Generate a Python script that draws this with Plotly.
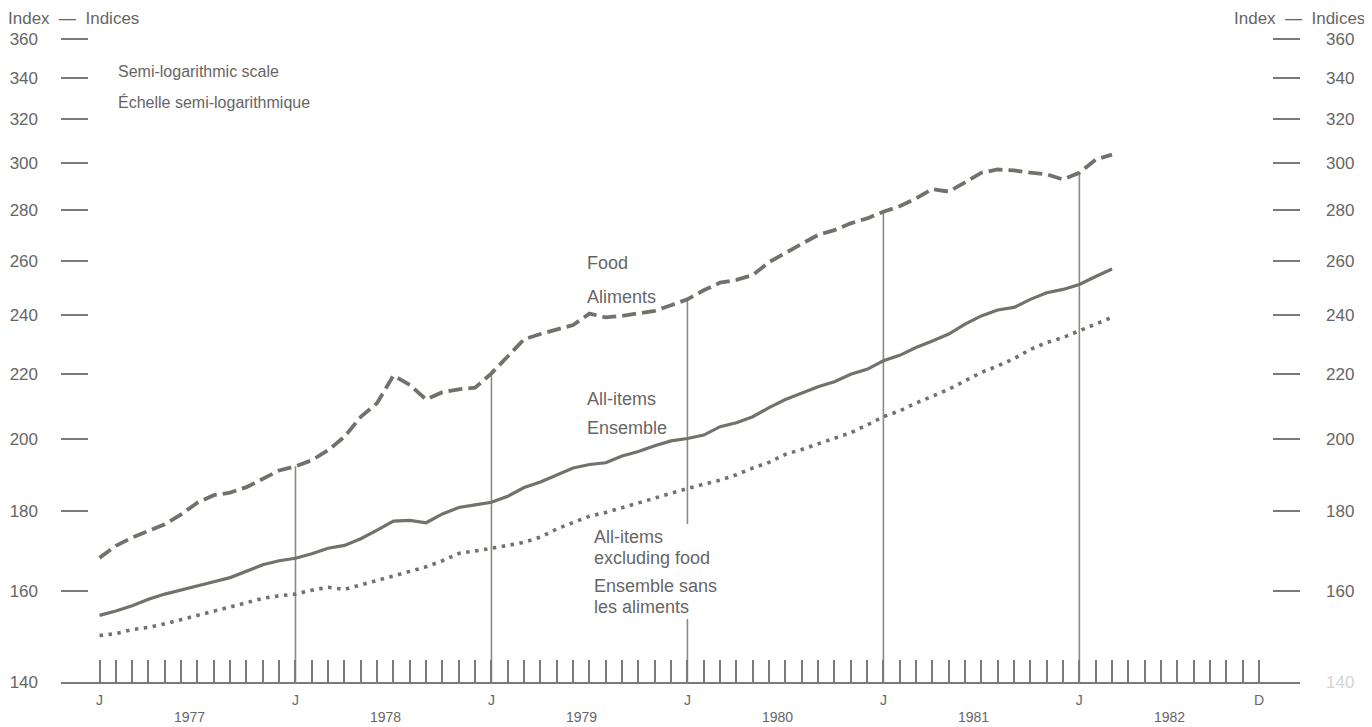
import math
import plotly.graph_objects as go

# ---- data (monthly, Jan 1977 - Mar 1982) ----
years = [1977, 1978, 1979, 1980, 1981, 1982]
food = [
    168.0, 171.0, 173.1, 174.7, 176.5, 179.1, 182.2, 184.2, 184.9, 186.4, 188.7, 191.0,
    192.2, 193.9, 196.8, 200.7, 206.7, 210.9, 219.6, 216.6, 212.0, 214.3, 215.2, 215.7,
    220.3, 226.0, 231.6, 233.4, 235.1, 236.5, 240.5, 239.2, 239.7, 240.5, 241.5, 243.5,
    245.6, 248.9, 251.7, 252.7, 254.5, 259.4, 262.9, 266.1, 270.0, 271.9, 274.6, 276.6,
    279.3, 281.6, 284.8, 288.8, 287.7, 291.6, 295.8, 297.2, 296.8, 295.8, 295.1, 292.9,
    295.8, 301.6, 303.8,
]
all_items = [
    154.4, 155.4, 156.6, 158.1, 159.3, 160.2, 161.2, 162.2, 163.2, 164.8, 166.3, 167.3,
    167.9, 169.0, 170.4, 171.1, 172.8, 175.0, 177.3, 177.5, 176.9, 179.2, 180.9, 181.6,
    182.3, 183.9, 186.3, 187.8, 189.8, 191.7, 192.7, 193.2, 195.1, 196.4, 198.1, 199.5,
    200.2, 201.2, 203.7, 204.9, 206.7, 209.5, 212.0, 214.1, 216.0, 217.6, 220.0, 221.6,
    224.4, 226.2, 228.8, 231.0, 233.4, 236.8, 239.7, 241.8, 242.7, 245.6, 248.0, 249.2,
    251.0, 254.0, 256.8,
]
excl_food = [
    149.9, 150.3, 151.2, 151.7, 152.5, 153.4, 154.4, 155.4, 156.3, 157.3, 158.3, 158.9,
    159.3, 160.2, 160.9, 160.4, 161.4, 162.4, 163.6, 164.7, 165.8, 167.3, 169.1, 169.7,
    170.3, 171.1, 171.9, 173.2, 175.3, 177.0, 178.6, 179.6, 180.9, 182.2, 183.5, 184.8,
    186.0, 187.2, 188.3, 189.8, 191.7, 193.3, 195.6, 197.0, 198.6, 200.2, 201.9, 204.2,
    206.7, 208.5, 210.9, 213.0, 215.2, 217.9, 220.6, 222.7, 225.1, 228.2, 230.5, 232.2,
    234.5, 236.9, 239.2,
]
y_ticks = [140, 160, 180, 200, 220, 240, 260, 280, 300, 320, 340, 360]
n_axis_months = 12 * len(years)

# ---- styling / geometry (page body has an 8px margin) ----
OFF = 8
W, H = 1372 - OFF, 727 - OFF
ML = 61 - OFF
MT = 30 - OFF
PLOT_RIGHT = 1300 - OFF
PLOT_BOTTOM = 682 - OFF
MR = W - PLOT_RIGHT
MB = H - PLOT_BOTTOM
PW, PH = PLOT_RIGHT - ML, PLOT_BOTTOM - MT
LINE = "#6f736b"
TEXT = "#666666"
AXC = "#7a7b76"
FONT = "Liberation Sans, Arial, sans-serif"


def px_x(p):
    return (p - OFF - ML) / PW


def px_y(p):
    return (PLOT_BOTTOM - (p - OFF)) / PH


months = list(range(len(food)))
fig = go.Figure()

# January reference lines from baseline up to the food curve
vx, vy = [], []
for m in range(12, len(food), 12):
    vx += [m, m, None]
    vy += [y_ticks[0], food[m], None]
fig.add_trace(go.Scatter(x=vx, y=vy, mode="lines", line=dict(color="#8a8b86", width=1.6),
                         hoverinfo="skip", showlegend=False))

fig.add_trace(go.Scatter(x=months, y=food, mode="lines", name="Food",
                         line=dict(color=LINE, width=3.8, dash="14px,6px"), showlegend=False))
fig.add_trace(go.Scatter(x=months, y=all_items, mode="lines", name="All-items",
                         line=dict(color=LINE, width=3.2), showlegend=False))
fig.add_trace(go.Scatter(x=months, y=excl_food, mode="lines", name="All-items excluding food",
                         yaxis="y2",
                         line=dict(color=LINE, width=3.6, dash="3.5px,5.5px"), showlegend=False))

ticktext_x = []
for m in range(n_axis_months):
    if m % 12 == 0:
        ticktext_x.append("J")
    elif m == n_axis_months - 1:
        ticktext_x.append("D")
    else:
        ticktext_x.append("")

x0 = -(99.5 - 61) / 16.33
x1 = (n_axis_months - 1) + (1300 - 1259) / 16.33
ytop = math.log10(y_ticks[-1] * math.exp(9 / 680.8))
yrange = [math.log10(y_ticks[0]), ytop]

common_y = dict(type="log", range=yrange, tickmode="array", tickvals=y_ticks,
                ticks="inside", ticklen=27, tickwidth=1.6, tickcolor=AXC,
                showline=False, showgrid=False, zeroline=False, automargin=False,
                tickfont=dict(size=17, color=TEXT))

fig.update_layout(
    width=W, height=H,
    margin=dict(l=ML, r=MR, t=MT, b=MB),
    paper_bgcolor="white", plot_bgcolor="white",
    font=dict(family=FONT, color=TEXT, size=15),
    xaxis=dict(range=[x0, x1], tickmode="array", tickvals=list(range(n_axis_months)),
               ticktext=ticktext_x, ticks="inside", ticklen=22, tickwidth=1.6,
               tickcolor=AXC, showline=True, linecolor=AXC, linewidth=1.8,
               showgrid=False, zeroline=False, automargin=False,
               tickfont=dict(size=14, color=TEXT), ticklabelstandoff=4),
    yaxis=dict(ticktext=[str(v) for v in y_ticks], ticklabelstandoff=22, **common_y),
    yaxis2=dict(overlaying="y", side="right", ticklabelstandoff=25,
                ticktext=['<span style="color:#d4d4d4">140</span>'] + [str(v) for v in y_ticks[1:]],
                **common_y),
)

# white block behind the lower series label (hides the January line there)
fig.add_shape(type="rect", xref="paper", yref="paper",
              x0=px_x(590), x1=px_x(728), y0=px_y(619), y1=px_y(524),
              fillcolor="white", line=dict(width=0), layer="above")

ann = []
# year labels centred under each year
for i, yr in enumerate(years):
    ann.append(dict(x=12 * i + 5.5, xref="x", y=0, yref="paper", yshift=-35,
                    text=str(yr), showarrow=False, font=dict(size=14, color=TEXT),
                    xanchor="center", yanchor="middle"))


def label(text, x, y, size=16, anchor="left"):
    ann.append(dict(x=px_x(x), y=px_y(y), xref="paper", yref="paper", text=text,
                    showarrow=False, xanchor=anchor, yanchor="middle",
                    font=dict(size=size, color=TEXT, family=FONT)))


label("Index\u00a0\u00a0—\u00a0\u00a0Indices", 6, 18, size=17)
label("Index\u00a0\u00a0—\u00a0\u00a0Indices", 1367, 18, size=17, anchor="right")
label("Semi-logarithmic scale", 116, 72)
label("Échelle semi-logarithmique", 116, 102)
label("Food", 585, 263, size=18)
label("Aliments", 585, 297, size=18)
label("All-items", 585, 399, size=18)
label("Ensemble", 585, 428, size=18)
label("All-items", 592, 537, size=18)
label("excluding food", 592, 558, size=18)
label("Ensemble sans", 592, 586, size=18)
label("les aliments", 592, 607, size=18)

fig.update_layout(annotations=ann)
fig.write_html("out.html")
